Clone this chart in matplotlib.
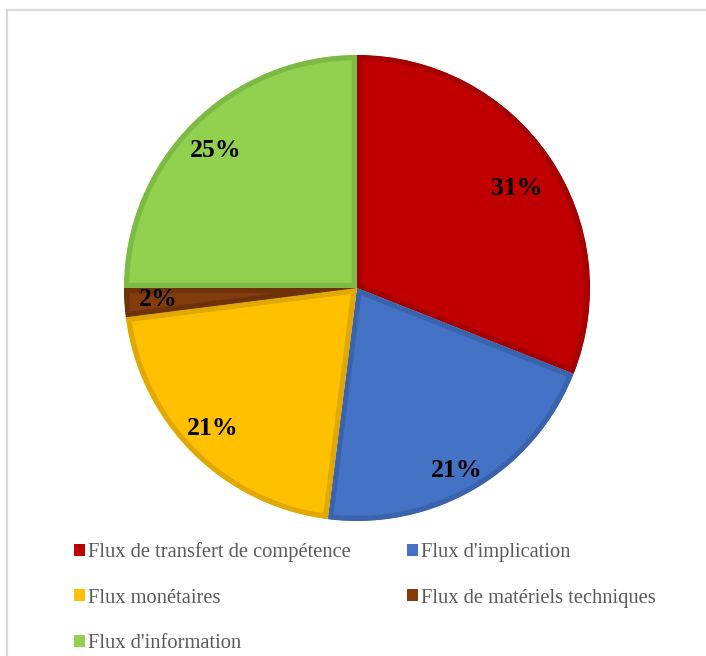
import matplotlib
matplotlib.use("Agg")
import matplotlib.pyplot as plt
from matplotlib.patches import Rectangle
from matplotlib.lines import Line2D
import numpy as np

categories = ["Flux de transfert de compétence", "Flux d'implication",
              "Flux monétaires", "Flux de matériels techniques", "Flux d'information"]
values = [31, 21, 21, 2, 25]
colors = ["#C00000", "#4472C4", "#FFC000", "#843C0C", "#92D050"]
edge_colors = ["#A50000", "#3A63AE", "#E0A800", "#6E3209", "#7DBA44"]
label_dist = [0.815, 0.88, 0.855, 0.855, 0.855]
label_rot = [-1.4, -1.4, -1.4, -1.3, 0.0]

W, H = 706, 656
fig = plt.figure(figsize=(W / 100, H / 100), dpi=100)
fig.patch.set_facecolor("white")

# outer frame (top and left edges visible)
fig.add_artist(Line2D([7 / W, 1.01], [1 - 9.5 / H, 1 - 9.5 / H], transform=fig.transFigure,
                      color="#D9D9D9", lw=1.5))
fig.add_artist(Line2D([7 / W, 7 / W], [1 - 9.5 / H, -0.01], transform=fig.transFigure,
                      color="#D9D9D9", lw=1.5))

cx, cy, r = 357, 288, 233
ax = fig.add_axes([(cx - r) / W, (H - cy - r) / H, 2 * r / W, 2 * r / H])
wedges, texts, autotexts = ax.pie(
    values, colors=colors, startangle=90, counterclock=False,
    autopct=lambda p: f"{p:.0f}%", pctdistance=0.855,
    wedgeprops=dict(linewidth=0),
    textprops=dict(fontsize=18.5, fontweight="bold", family="Liberation Serif", color="black"))
for w, ec in zip(wedges, edge_colors):
    w.set_edgecolor(ec)
    w.set_linewidth(7.5)
    w.set_clip_on(True)
    w.set_clip_path(w)
for w, t, d, rot in zip(wedges, autotexts, label_dist, label_rot):
    ang = np.deg2rad((w.theta1 + w.theta2) / 2 + rot)
    t.set_position((d * np.cos(ang), d * np.sin(ang) - 0.013))
ax.set_xlim(-1, 1)
ax.set_ylim(-1, 1)
ax.set_aspect("equal")
ax.axis("off")

# legend (row-wise order like the reference: fill column-major)
order = [0, 2, 4, 1, 3]
handles = [Rectangle((0, 0), 1, 1, facecolor=colors[i], edgecolor="none") for i in order]
labels = [categories[i] for i in order]
leg = fig.legend(handles, labels, ncol=2, loc="upper left",
                 bbox_to_anchor=(74 / W, 1 - 542 / H), frameon=False,
                 borderpad=0, borderaxespad=0,
                 prop=dict(family="Liberation Serif", size=14.8),
                 handlelength=0.53, handleheight=0.53, handletextpad=0.17,
                 columnspacing=2.7, labelspacing=1.3, labelcolor="#595959")

fig.savefig("out.png", dpi=100, facecolor="white")
